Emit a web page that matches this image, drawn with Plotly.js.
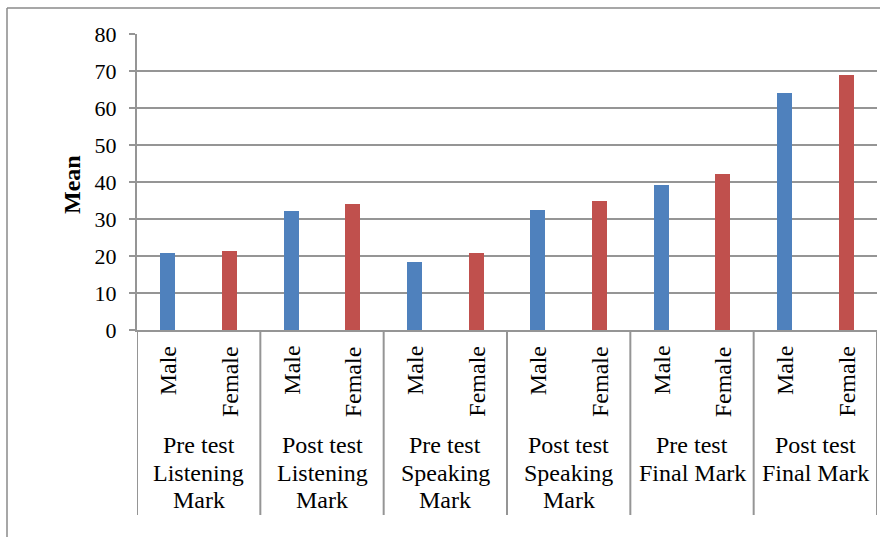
<!DOCTYPE html>
<html>
<head>
<meta charset="utf-8">
<script src="https://cdn.plot.ly/plotly-3.0.1.min.js"></script>
<style>html,body{margin:0;padding:0;background:#fff;}#chart{width:880px;height:537px;}</style>
</head>
<body>
<div id="chart"></div>
<script>
const groups = ["Pre test<br>Listening<br>Mark", "Post test<br>Listening<br>Mark", "Pre test<br>Speaking<br>Mark", "Post test<br>Speaking<br>Mark", "Pre test<br>Final Mark", "Post test<br>Final Mark"];
const genders = ["Male", "Female"];
const maleMeans = [20.9, 32.2, 18.3, 32.4, 39.2, 64.0];
const femaleMeans = [21.4, 34.1, 20.8, 34.9, 42.2, 68.9];
const yTicks = [0, 10, 20, 30, 40, 50, 60, 70, 80];

const maleX = groups.map((g, i) => 2 * i);
const femaleX = groups.map((g, i) => 2 * i + 1);
const font = "'Liberation Serif', 'Times New Roman', Times, serif";
const gridC = "#959595";
const FS = 24;

const traces = [
  {type: "bar", name: genders[0], x: maleX, y: maleMeans, width: 0.245,
   marker: {color: "#4F81BD"}, hoverinfo: "y"},
  {type: "bar", name: genders[1], x: femaleX, y: femaleMeans, width: 0.245,
   marker: {color: "#C0504D"}, hoverinfo: "y"}
];

const W = 740, H = 296; // plot area px
const py = px => -px / H; // px below axis to paper y
const annotations = [];
const shapes = [];
groups.forEach((g, i) => {
  annotations.push({x: 2 * i, y: py(14), xref: "x", yref: "paper", text: genders[0], textangle: -90,
    showarrow: false, xanchor: "center", yanchor: "top", font: {family: font, size: FS, color: "#000"}});
  annotations.push({x: 2 * i + 1, y: py(14), xref: "x", yref: "paper", text: genders[1], textangle: -90,
    showarrow: false, xanchor: "center", yanchor: "top", font: {family: font, size: FS, color: "#000"}});
  g.split("<br>").forEach((line, j) => {
    annotations.push({x: 2 * i + 0.5, y: py(115 + 27.5 * j), xref: "x", yref: "paper", text: line,
      showarrow: false, xanchor: "center", yanchor: "middle", align: "center",
      font: {family: font, size: FS, color: "#000"}});
  });
});
annotations.push({x: (72 - 137) / W, y: (330 - 185) / H, xref: "paper", yref: "paper",
  text: "<b>Mean</b>", textangle: -90, showarrow: false, xanchor: "center", yanchor: "middle",
  font: {family: font, size: FS, color: "#000"}});
for (let k = 0; k <= groups.length; k++) {
  shapes.push({type: "line", xref: "x", yref: "paper", x0: 2 * k - 0.5, x1: 2 * k - 0.5,
    y0: 0, y1: py(185), line: {color: gridC, width: 2}});
}
// outer frame
shapes.push({type: "line", xref: "paper", yref: "paper", x0: -130 / W, x1: -130 / W,
  y0: (330 - 8) / H, y1: py(220), line: {color: "#8a8a8a", width: 1.5}});
shapes.push({type: "line", xref: "paper", yref: "paper", x0: -130 / W, x1: 1.01,
  y0: (330 - 8) / H, y1: (330 - 8) / H, line: {color: "#8a8a8a", width: 1.5}});

const layout = {
  width: 880, height: 537,
  margin: {l: 137, r: 3, t: 34, b: 207},
  paper_bgcolor: "#fff", plot_bgcolor: "#fff",
  showlegend: false,
  bargap: 0,
  font: {family: font},
  xaxis: {range: [-0.5, 11.5], showticklabels: false, showgrid: false, zeroline: false,
    showline: true, linecolor: gridC, linewidth: 2, ticks: "", fixedrange: true},
  yaxis: {range: [0, 80], tickvals: yTicks, ticktext: yTicks.map(String),
    showgrid: true, gridcolor: gridC, gridwidth: 2, zeroline: false,
    showline: true, linecolor: gridC, linewidth: 2,
    ticks: "outside", ticklen: 6, tickwidth: 2, tickcolor: gridC, ticklabelstandoff: 8,
    tickfont: {family: font, size: 22, color: "#000"}},
  annotations: annotations,
  shapes: shapes
};
Plotly.newPlot("chart", traces, layout, {displayModeBar: false, staticPlot: true});
</script>
</body>
</html>
